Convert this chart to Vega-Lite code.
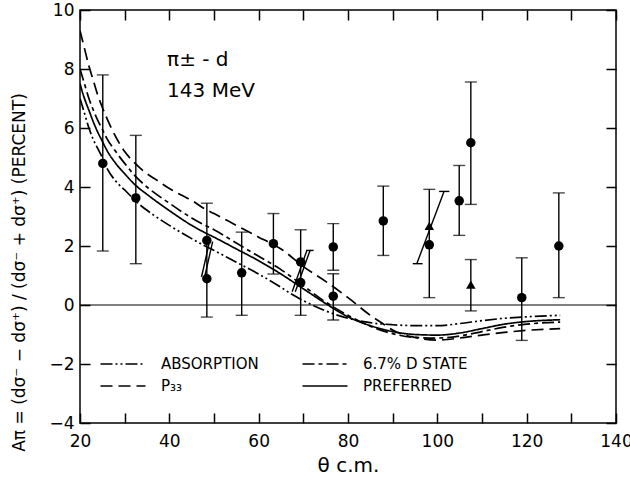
{
  "$schema": "https://vega.github.io/schema/vega-lite/v6.json",
  "autosize": "none",
  "width": 536,
  "height": 413,
  "padding": {"left": 80, "top": 10, "right": 14, "bottom": 58},
  "background": "white",
  "config": {
    "view": {"stroke": "black", "strokeWidth": 1.5},
    "font": "DejaVu Sans",
    "axis": {"domain": false, "ticks": false, "labelColor": "black", "titleColor": "black", "labelFont": "DejaVu Sans", "titleFont": "DejaVu Sans"}
  },
  "datasets": {
    "curves": [
      {"t": 20, "v": 7.0, "model": "ABSORPTION"}, {"t": 21, "v": 6.5, "model": "ABSORPTION"}, {"t": 22, "v": 6.0, "model": "ABSORPTION"}, {"t": 23, "v": 5.6, "model": "ABSORPTION"}, {"t": 24, "v": 5.3, "model": "ABSORPTION"}, {"t": 25, "v": 5.0, "model": "ABSORPTION"}, {"t": 26, "v": 4.65, "model": "ABSORPTION"}, {"t": 28, "v": 4.2, "model": "ABSORPTION"}, {"t": 30, "v": 3.9, "model": "ABSORPTION"}, {"t": 33, "v": 3.45, "model": "ABSORPTION"}, {"t": 36, "v": 3.1, "model": "ABSORPTION"}, {"t": 40, "v": 2.7, "model": "ABSORPTION"}, {"t": 45, "v": 2.25, "model": "ABSORPTION"}, {"t": 48, "v": 2.0, "model": "ABSORPTION"}, {"t": 50, "v": 1.85, "model": "ABSORPTION"}, {"t": 55, "v": 1.45, "model": "ABSORPTION"}, {"t": 60, "v": 1.05, "model": "ABSORPTION"}, {"t": 65, "v": 0.6, "model": "ABSORPTION"}, {"t": 67, "v": 0.4, "model": "ABSORPTION"}, {"t": 70, "v": 0.15, "model": "ABSORPTION"}, {"t": 75, "v": -0.2, "model": "ABSORPTION"}, {"t": 80, "v": -0.45, "model": "ABSORPTION"}, {"t": 85, "v": -0.6, "model": "ABSORPTION"}, {"t": 90, "v": -0.67, "model": "ABSORPTION"}, {"t": 95, "v": -0.7, "model": "ABSORPTION"}, {"t": 100, "v": -0.7, "model": "ABSORPTION"}, {"t": 105, "v": -0.63, "model": "ABSORPTION"}, {"t": 110, "v": -0.53, "model": "ABSORPTION"}, {"t": 115, "v": -0.45, "model": "ABSORPTION"}, {"t": 120, "v": -0.4, "model": "ABSORPTION"}, {"t": 127.5, "v": -0.35, "model": "ABSORPTION"},
      {"t": 20, "v": 8.0, "model": "6.7% D STATE"}, {"t": 21, "v": 7.5, "model": "6.7% D STATE"}, {"t": 22, "v": 7.0, "model": "6.7% D STATE"}, {"t": 23, "v": 6.6, "model": "6.7% D STATE"}, {"t": 24, "v": 6.25, "model": "6.7% D STATE"}, {"t": 25, "v": 5.95, "model": "6.7% D STATE"}, {"t": 26, "v": 5.65, "model": "6.7% D STATE"}, {"t": 28, "v": 5.2, "model": "6.7% D STATE"}, {"t": 30, "v": 4.8, "model": "6.7% D STATE"}, {"t": 32.5, "v": 4.35, "model": "6.7% D STATE"}, {"t": 35, "v": 4.0, "model": "6.7% D STATE"}, {"t": 40, "v": 3.45, "model": "6.7% D STATE"}, {"t": 45, "v": 2.95, "model": "6.7% D STATE"}, {"t": 48, "v": 2.7, "model": "6.7% D STATE"}, {"t": 50, "v": 2.55, "model": "6.7% D STATE"}, {"t": 55, "v": 2.1, "model": "6.7% D STATE"}, {"t": 60, "v": 1.65, "model": "6.7% D STATE"}, {"t": 65, "v": 1.2, "model": "6.7% D STATE"}, {"t": 70, "v": 0.65, "model": "6.7% D STATE"}, {"t": 75, "v": 0.1, "model": "6.7% D STATE"}, {"t": 80, "v": -0.35, "model": "6.7% D STATE"}, {"t": 85, "v": -0.72, "model": "6.7% D STATE"}, {"t": 90, "v": -0.97, "model": "6.7% D STATE"}, {"t": 95, "v": -1.1, "model": "6.7% D STATE"}, {"t": 100, "v": -1.12, "model": "6.7% D STATE"}, {"t": 105, "v": -1.05, "model": "6.7% D STATE"}, {"t": 110, "v": -0.9, "model": "6.7% D STATE"}, {"t": 115, "v": -0.75, "model": "6.7% D STATE"}, {"t": 120, "v": -0.65, "model": "6.7% D STATE"}, {"t": 127.5, "v": -0.58, "model": "6.7% D STATE"},
      {"t": 20, "v": 9.3, "model": "P₃₃"}, {"t": 21, "v": 8.7, "model": "P₃₃"}, {"t": 22, "v": 8.1, "model": "P₃₃"}, {"t": 23, "v": 7.6, "model": "P₃₃"}, {"t": 24, "v": 7.1, "model": "P₃₃"}, {"t": 25, "v": 6.7, "model": "P₃₃"}, {"t": 27, "v": 6.0, "model": "P₃₃"}, {"t": 30, "v": 5.2, "model": "P₃₃"}, {"t": 32, "v": 4.85, "model": "P₃₃"}, {"t": 35, "v": 4.45, "model": "P₃₃"}, {"t": 37, "v": 4.25, "model": "P₃₃"}, {"t": 40, "v": 3.95, "model": "P₃₃"}, {"t": 43, "v": 3.7, "model": "P₃₃"}, {"t": 45, "v": 3.55, "model": "P₃₃"}, {"t": 48, "v": 3.25, "model": "P₃₃"}, {"t": 50, "v": 3.1, "model": "P₃₃"}, {"t": 55, "v": 2.7, "model": "P₃₃"}, {"t": 60, "v": 2.3, "model": "P₃₃"}, {"t": 63, "v": 2.07, "model": "P₃₃"}, {"t": 65, "v": 1.9, "model": "P₃₃"}, {"t": 70, "v": 1.3, "model": "P₃₃"}, {"t": 75, "v": 0.8, "model": "P₃₃"}, {"t": 80, "v": 0.25, "model": "P₃₃"}, {"t": 85, "v": -0.35, "model": "P₃₃"}, {"t": 88, "v": -0.65, "model": "P₃₃"}, {"t": 90, "v": -0.85, "model": "P₃₃"}, {"t": 95, "v": -1.1, "model": "P₃₃"}, {"t": 100, "v": -1.19, "model": "P₃₃"}, {"t": 105, "v": -1.12, "model": "P₃₃"}, {"t": 110, "v": -1.02, "model": "P₃₃"}, {"t": 115, "v": -0.93, "model": "P₃₃"}, {"t": 120, "v": -0.86, "model": "P₃₃"}, {"t": 127.5, "v": -0.8, "model": "P₃₃"},
      {"t": 20, "v": 7.5, "model": "PREFERRED"}, {"t": 21, "v": 7.0, "model": "PREFERRED"}, {"t": 22, "v": 6.6, "model": "PREFERRED"}, {"t": 23, "v": 6.2, "model": "PREFERRED"}, {"t": 24, "v": 5.85, "model": "PREFERRED"}, {"t": 25, "v": 5.55, "model": "PREFERRED"}, {"t": 26, "v": 5.25, "model": "PREFERRED"}, {"t": 28, "v": 4.8, "model": "PREFERRED"}, {"t": 30, "v": 4.45, "model": "PREFERRED"}, {"t": 32.5, "v": 4.05, "model": "PREFERRED"}, {"t": 35, "v": 3.75, "model": "PREFERRED"}, {"t": 40, "v": 3.2, "model": "PREFERRED"}, {"t": 45, "v": 2.7, "model": "PREFERRED"}, {"t": 48, "v": 2.45, "model": "PREFERRED"}, {"t": 50, "v": 2.3, "model": "PREFERRED"}, {"t": 55, "v": 1.9, "model": "PREFERRED"}, {"t": 60, "v": 1.5, "model": "PREFERRED"}, {"t": 65, "v": 1.05, "model": "PREFERRED"}, {"t": 70, "v": 0.55, "model": "PREFERRED"}, {"t": 75, "v": 0.05, "model": "PREFERRED"}, {"t": 80, "v": -0.4, "model": "PREFERRED"}, {"t": 85, "v": -0.7, "model": "PREFERRED"}, {"t": 90, "v": -0.9, "model": "PREFERRED"}, {"t": 95, "v": -1.0, "model": "PREFERRED"}, {"t": 100, "v": -1.02, "model": "PREFERRED"}, {"t": 105, "v": -0.95, "model": "PREFERRED"}, {"t": 110, "v": -0.8, "model": "PREFERRED"}, {"t": 115, "v": -0.65, "model": "PREFERRED"}, {"t": 120, "v": -0.56, "model": "PREFERRED"}, {"t": 127.5, "v": -0.5, "model": "PREFERRED"}
    ],
    "points": [
      {"t": 25.1, "v": 4.8, "kind": "circle"},
      {"t": 32.5, "v": 3.63, "kind": "circle"},
      {"t": 48.4, "v": 2.19, "kind": "circle"},
      {"t": 48.4, "v": 0.89, "kind": "circle"},
      {"t": 56.2, "v": 1.09, "kind": "circle"},
      {"t": 63.3, "v": 2.08, "kind": "circle"},
      {"t": 69.4, "v": 1.46, "kind": "circle"},
      {"t": 69.4, "v": 0.76, "kind": "circle"},
      {"t": 76.7, "v": 1.97, "kind": "circle"},
      {"t": 76.7, "v": 0.3, "kind": "circle"},
      {"t": 87.9, "v": 2.85, "kind": "circle"},
      {"t": 98.2, "v": 2.04, "kind": "circle"},
      {"t": 98.2, "v": 2.68, "kind": "triangle-up"},
      {"t": 104.9, "v": 3.53, "kind": "circle"},
      {"t": 107.5, "v": 5.5, "kind": "circle"},
      {"t": 107.5, "v": 0.69, "kind": "triangle-up"},
      {"t": 118.9, "v": 0.25, "kind": "circle"},
      {"t": 127.2, "v": 2.0, "kind": "circle"}
    ],
    "bars": [
      {"t": 25.1, "lo": 1.83, "hi": 7.8},
      {"t": 32.5, "lo": 1.4, "hi": 5.75},
      {"t": 48.4, "lo": -0.41, "hi": 3.45},
      {"t": 56.2, "lo": -0.35, "hi": 2.47},
      {"t": 63.3, "lo": 1.05, "hi": 3.1},
      {"t": 69.4, "lo": -0.35, "hi": 2.55},
      {"t": 76.7, "lo": 1.18, "hi": 2.76},
      {"t": 76.7, "lo": -0.51, "hi": 1.06},
      {"t": 87.9, "lo": 1.68, "hi": 4.03},
      {"t": 98.2, "lo": 0.25, "hi": 3.92},
      {"t": 104.9, "lo": 2.36, "hi": 4.73},
      {"t": 107.5, "lo": 3.41, "hi": 7.56},
      {"t": 107.5, "lo": -0.2, "hi": 1.54},
      {"t": 118.9, "lo": -1.2, "hi": 1.6},
      {"t": 127.2, "lo": 0.25, "hi": 3.8}
    ],
    "slants": [
      {"t": 47.2, "t2": 49.0, "v": 0.95, "v2": 2.15},
      {"t": 47.9, "t2": 49.7, "v": 0.95, "v2": 2.15},
      {"t": 67.5, "t2": 70.8, "v": 0.45, "v2": 1.85},
      {"t": 68.2, "t2": 71.5, "v": 0.45, "v2": 1.85},
      {"t": 70.6, "t2": 72.3, "v": 1.85, "v2": 1.85},
      {"t": 95.4, "t2": 101.5, "v": 1.4, "v2": 3.85},
      {"t": 94.5, "t2": 96.7, "v": 1.4, "v2": 1.4},
      {"t": 100.4, "t2": 102.7, "v": 3.85, "v2": 3.85}
    ],
    "notes": [
      {"t": 39.5, "v": 8.3, "label": "π± - d"},
      {"t": 39.5, "v": 7.25, "label": "143 MeV"}
    ]
  },
  "layer": [
    {
      "data": {"name": "curves"},
      "mark": {"type": "line", "color": "black", "strokeWidth": 1.7, "interpolate": "monotone", "clip": true},
      "encoding": {
        "x": {"field": "t", "type": "quantitative", "scale": {"domain": [20, 140], "nice": false},
          "axis": {"orient": "bottom", "values": [20, 30, 40, 50, 60, 70, 80, 90, 100, 110, 120, 130, 140], "labelExpr": "datum.value % 20 == 0 ? datum.label : ''",
            "grid": true, "gridColor": "black", "gridOpacity": 1, "gridWidth": 1.5, "gridDash": [10, 393, 10, 0],
            "labelPadding": 10, "labelFontSize": 17, "labelFlush": false,
            "title": "θ c.m.", "titleFontSize": 20, "titleFontWeight": "normal", "titlePadding": 6}},
        "y": {"field": "v", "type": "quantitative", "scale": {"domain": [-4, 10], "nice": false},
          "axis": {"orient": "left", "values": [-4, -2, 0, 2, 4, 6, 8, 10],
            "grid": true, "gridColor": "black", "gridOpacity": 1, "gridWidth": 1.5, "gridDash": [10, 516, 10, 0],
            "labelPadding": 6, "labelFontSize": 17, "labelFlush": false,
            "title": "Aπ = (dσ⁻ − dσ⁺) / (dσ⁻ + dσ⁺)   (PERCENT)", "titleFontSize": 17, "titleFontWeight": "normal", "titleY": 262, "titleX": -52}},
        "strokeDash": {"field": "model", "type": "nominal",
          "scale": {"domain": ["ABSORPTION", "P₃₃", "6.7% D STATE", "PREFERRED"], "range": [[12, 3, 2, 3, 2, 3], [12, 6], [12, 4, 4, 4], [1, 0]]},
          "legend": {"orient": "none", "legendX": 33, "legendY": 344, "columns": 2, "title": null, "padding": 0,
            "symbolType": "M-2.5,0H2.5", "symbolSize": 324, "symbolStrokeWidth": 1.7, "symbolStrokeColor": "black",
            "labelFontSize": 15, "labelColor": "black", "labelOffset": 28, "columnPadding": 40, "rowPadding": 4, "labelFont": "DejaVu Sans"}}
      }
    },
    {
      "data": {"values": [{"v": 0}]},
      "mark": {"type": "rule", "color": "black", "strokeWidth": 1.2},
      "encoding": {
        "y": {"field": "v", "type": "quantitative"},
        "x": {"datum": 20, "type": "quantitative"},
        "x2": {"datum": 140}
      }
    },
    {
      "data": {"name": "bars"},
      "mark": {"type": "rule", "color": "black", "strokeWidth": 1.4},
      "encoding": {
        "x": {"field": "t", "type": "quantitative"},
        "y": {"field": "lo", "type": "quantitative"},
        "y2": {"field": "hi"}
      }
    },
    {
      "data": {"name": "bars"},
      "mark": {"type": "tick", "orient": "horizontal", "color": "black", "size": 12, "thickness": 1.4},
      "encoding": {
        "x": {"field": "t", "type": "quantitative"},
        "y": {"field": "lo", "type": "quantitative"}
      }
    },
    {
      "data": {"name": "bars"},
      "mark": {"type": "tick", "orient": "horizontal", "color": "black", "size": 12, "thickness": 1.4},
      "encoding": {
        "x": {"field": "t", "type": "quantitative"},
        "y": {"field": "hi", "type": "quantitative"}
      }
    },
    {
      "data": {"name": "slants"},
      "mark": {"type": "rule", "color": "black", "strokeWidth": 1.4},
      "encoding": {
        "x": {"field": "t", "type": "quantitative"},
        "x2": {"field": "t2"},
        "y": {"field": "v", "type": "quantitative"},
        "y2": {"field": "v2"}
      }
    },
    {
      "data": {"name": "points"},
      "mark": {"type": "point", "filled": true, "color": "black", "opacity": 1, "size": 90},
      "encoding": {
        "x": {"field": "t", "type": "quantitative"},
        "y": {"field": "v", "type": "quantitative"},
        "shape": {"field": "kind", "type": "nominal", "scale": {"domain": ["circle", "triangle-up"], "range": ["circle", "triangle-up"]}, "legend": null}
      }
    },
    {
      "data": {"name": "notes"},
      "mark": {"type": "text", "align": "left", "baseline": "middle", "fontSize": 20, "color": "black", "font": "DejaVu Sans"},
      "encoding": {
        "x": {"field": "t", "type": "quantitative"},
        "y": {"field": "v", "type": "quantitative"},
        "text": {"field": "label"}
      }
    }
  ]
}
